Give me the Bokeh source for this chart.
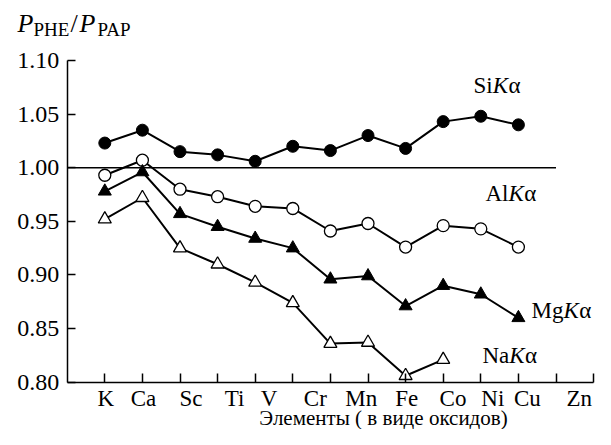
from bokeh.plotting import figure
from bokeh.models import Range1d, FixedTicker, Label
from bokeh.embed import file_html
from bokeh.resources import INLINE

# ---- data ----
elements = ["K", "Ca", "Sc", "Ti", "V", "Cr", "Mn", "Fe", "Co", "Ni", "Cu", "Zn"]
element_label_pos = [1.03, 2.03, 3.29, 4.45, 5.37, 6.60, 7.82, 9.03, 10.26, 11.32, 12.24, 13.62]
tick_marks = list(range(1, 15))
x_points = list(range(1, 13))

si_ka = [1.023, 1.035, 1.015, 1.012, 1.006, 1.020, 1.016, 1.030, 1.018, 1.043, 1.048, 1.040]
al_ka = [0.993, 1.007, 0.980, 0.973, 0.964, 0.962, 0.941, 0.948, 0.926, 0.946, 0.943, 0.926]
mg_ka = [0.978, 0.996, 0.957, 0.945, 0.934, 0.925, 0.896, 0.899, 0.871, 0.890, 0.882, 0.860]
na_ka = [0.952, 0.972, 0.925, 0.910, 0.893, 0.874, 0.836, 0.837, 0.806, 0.821]

y_ticks = [0.80, 0.85, 0.90, 0.95, 1.00, 1.05, 1.10]
y_tick_labels = ["0.80", "0.85", "0.90", "0.95", "1.00", "1.05", "1.10"]
x_bounds = (0, 14)
y_bounds = (0.80, 1.10)
ref_y = 1.00
ref_x = [0, 13]

# ---- layout (pixels) ----
W, H = 595, 429
AX_LEFT_PX, UNIT_X_PX = 66.7, 37.6      # x = 0 at this pixel, pixels per category step
AX_TOP_PX, UNIT_Y_PX = 60.0, 1072.3     # y = 1.10 at this pixel, pixels per 1.0


def X(px):
    return (px - AX_LEFT_PX) / UNIT_X_PX


def Y(py):
    return 1.10 - (py - AX_TOP_PX) / UNIT_Y_PX


FONT = "Liberation Serif"

p = figure(width=W, height=H, output_backend="svg", toolbar_location=None,
           title=None, x_range=Range1d(X(0), X(W)), y_range=Range1d(Y(H), Y(0)),
           min_border_left=0, min_border_right=0, min_border_top=0, min_border_bottom=0)
p.outline_line_color = None
p.xgrid.visible = False
p.ygrid.visible = False
p.background_fill_color = "white"
p.border_fill_color = "white"

# x axis
xa = p.xaxis[0]
xa.fixed_location = y_bounds[0]
xa.bounds = x_bounds
xa.ticker = FixedTicker(ticks=element_label_pos, minor_ticks=tick_marks)
xa.major_label_overrides = {pos: lab for pos, lab in zip(element_label_pos, elements)}
xa.major_tick_line_color = None
xa.major_tick_in = 0
xa.major_tick_out = 0
xa.minor_tick_in = 9
xa.minor_tick_out = 0
xa.minor_tick_line_color = "black"
xa.minor_tick_line_width = 1.5
xa.axis_line_width = 1.5
xa.axis_line_color = "black"
xa.major_label_text_font = FONT
xa.major_label_text_font_size = "23px"
xa.major_label_text_color = "black"
xa.major_label_standoff = 4

# y axis
ya = p.yaxis[0]
ya.fixed_location = x_bounds[0]
ya.bounds = y_bounds
ya.ticker = FixedTicker(ticks=y_ticks)
ya.major_label_overrides = {t: s for t, s in zip(y_ticks, y_tick_labels)}
ya.major_tick_in = 8
ya.major_tick_out = 0
ya.minor_tick_line_color = None
ya.major_tick_line_width = 1.5
ya.axis_line_width = 1.5
ya.axis_line_color = "black"
ya.major_tick_line_color = "black"
ya.major_label_text_font = FONT
ya.major_label_text_font_size = "24px"
ya.major_label_text_color = "black"
ya.major_label_standoff = 8

# reference line at 1.00
p.line(ref_x, [ref_y, ref_y], line_color="black", line_width=1.5)

# series
lw = 2
p.line(x_points, si_ka, line_color="black", line_width=lw)
p.scatter(x_points, si_ka, marker="circle", size=12, fill_color="black", line_color="black")
p.line(x_points, al_ka, line_color="black", line_width=lw)
p.scatter(x_points, al_ka, marker="circle", size=12, fill_color="white", line_color="black", line_width=1.3)
p.line(x_points, mg_ka, line_color="black", line_width=lw)
p.scatter(x_points, mg_ka, marker="triangle", size=13, fill_color="black", line_color="black")
p.line(x_points[:len(na_ka)], na_ka, line_color="black", line_width=lw)
p.scatter(x_points[:len(na_ka)], na_ka, marker="triangle", size=13, fill_color="white",
          line_color="black", line_width=1.3)


def put(text, px, py_mid, size=23, style="normal", align="left"):
    p.add_layout(Label(x=X(px), y=Y(py_mid), text=text, text_font=FONT,
                       text_font_size=f"{size}px", text_font_style=style,
                       text_align=align, text_baseline="middle", text_color="black"))


# series labels (name + italic K + alpha); vertical positions are text middles
def series_label(name, name_w, px, py_mid):
    put(name, px, py_mid)
    put("K", px + name_w, py_mid, style="italic")
    put("α", px + name_w + 15.8, py_mid)


series_label("Si", 19.2, 473, 85)
series_label("Al", 23.0, 485, 193)
series_label("Mg", 32.0, 531, 310)
series_label("Na", 26.8, 482, 355)

# y axis title P_PHE / P_PAP
put("P", 17, 23, size=26, style="italic")
put("PHE", 33, 28.5, size=19)
put("/", 70, 23, size=26)
put("P", 79, 23, size=26, style="italic")
put("PAP", 97, 28.5, size=19)

# x axis title
put("Элементы ( в виде оксидов)", 383, 417.5, size=21, align="center")

open("out.html", "w").write(file_html(p, INLINE))
